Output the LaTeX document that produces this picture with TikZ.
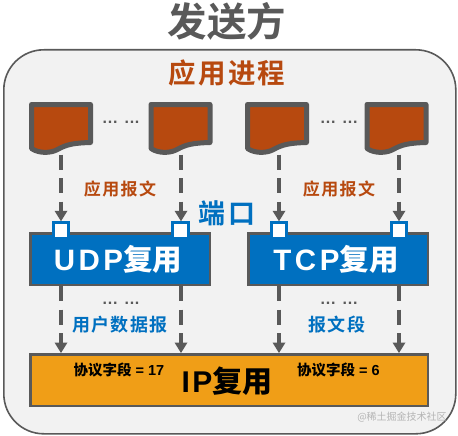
\documentclass[tikz,border=0pt]{standalone}
\usepackage{fontspec}
\setmainfont{Liberation Sans}
\newfontfamily\cjk{Noto Sans CJK SC}
\newfontfamily\cjkb{Noto Sans CJK SC Bold}
\newfontfamily\cjksp[LetterSpace=8]{Noto Sans CJK SC Bold}
\newfontfamily\dotfont[LetterSpace=5]{Liberation Sans Bold}
\definecolor{gr}{HTML}{595959}
\definecolor{rust}{HTML}{B7490F}
\definecolor{blu}{HTML}{0070C0}
\definecolor{org}{HTML}{F09E17}
\definecolor{pane}{HTML}{F2F2F2}
\tikzset{
  x=1pt,y=-1pt,
  txt/.style={inner sep=0pt,anchor=center},
  box/.style={draw=gr,line width=2.5pt,inner sep=0pt,anchor=north west},
  port/.style={draw=blu,fill=white,line width=3pt,minimum size=15.5pt,inner sep=0pt},
  conn/.style={draw=gr,line width=4pt,dash pattern=on 15pt off 8.5pt},
  tip/.style={fill=gr,draw=none},
  docpath/.style={fill=rust,draw=gr,line width=5pt,line join=round},
  dots/.style={txt,text=gr,font=\dotfont\fontsize{16}{16}\selectfont},
}
\newcommand{\docat}[2]{%
  \begin{scope}[shift={(#1,104.5)}]
    \draw[docpath] (0,0) -- (59,0) -- (59,38) .. controls (42,38.5) and (35,40) .. (26,45) .. controls (20,48.5) and (8,49.5) .. (0,44) -- cycle;
  \end{scope}%
  \node[inner sep=0pt,minimum width=64pt,minimum height=51pt] (#2) at (#1+29.5,129) {};%
}
\newcommand{\arrowdown}[2]{%
  \path[conn] (#1) -- (#2);
  \fill[tip] (#2) ++(-6.5,-10.5) -- ++(13,0) -- ++(-6.5,10.5) -- cycle;
}
\begin{document}
\begin{tikzpicture}
\useasboundingbox (0,0) rectangle (458,436);
\fill[white] (0,0) rectangle (458,436);
\node[txt,text=gr,font=\cjkb\fontsize{39.5}{39.5}\selectfont] (title) at (227,21) {发送方};
\node[draw=gr,fill=pane,line width=1.6pt,rounded corners=40pt,minimum width=452pt,minimum height=384pt,anchor=north west,inner sep=0pt] (pane) at (3,49) {};
\node[txt,text=rust,font=\cjksp\fontsize{27.5}{27.5}\selectfont] (proc) at (227,73) {应用进程};
\docat{31.5}{d1}
\docat{151}{d2}
\docat{247.5}{d3}
\docat{367}{d4}
\node[dots] (da) at (121,122) {... ...};
\node[dots] (db) at (339,122) {... ...};
\node[box,fill=blu,minimum width=179.5pt,minimum height=51.5pt] (udp) at (29,232) {};
\node[box,fill=blu,minimum width=179.5pt,minimum height=51.5pt] (tcp) at (247,232) {};
\node[box,fill=org,minimum width=397.5pt,minimum height=51.5pt] (ip) at (29,353) {};
\node[port] (p1) at (61,230.5) {};
\node[port] (p2) at (180.5,230.5) {};
\node[port] (p3) at (279,230.5) {};
\node[port] (p4) at (399,230.5) {};
\coordinate (a1) at (61,154);
\coordinate (a2) at (181,154);
\coordinate (a3) at (279,154);
\coordinate (a4) at (399,154);
\arrowdown{d1.south -| a1}{a1 |- p1.north}
\arrowdown{d2.south -| a2}{a2 |- p2.north}
\arrowdown{d3.south -| a3}{a3 |- p3.north}
\arrowdown{d4.south -| a4}{a4 |- p4.north}
\arrowdown{a1 |- udp.south}{a1 |- ip.north}
\arrowdown{a2 |- udp.south}{a2 |- ip.north}
\arrowdown{a3 |- tcp.south}{a3 |- ip.north}
\arrowdown{a4 |- tcp.south}{a4 |- ip.north}
\node[txt,text=rust,font=\cjksp\fontsize{17}{17}\selectfont] (m1) at (120,189) {应用报文};
\node[txt,text=rust,font=\cjksp\fontsize{17}{17}\selectfont] (m2) at (339,189) {应用报文};
\node[txt,text=blu,font=\cjksp\fontsize{27}{27}\selectfont] (port) at (227,213) {端口};
\node[txt,text=white,font=\bfseries\fontsize{29.5}{29.5}\selectfont] (ut) at (118,259) {\addfontfeatures{LetterSpace=12}UDP{\cjkb 复用}};
\node[txt,text=white,font=\bfseries\fontsize{29.5}{29.5}\selectfont] (tt) at (336,259) {\addfontfeatures{LetterSpace=12}TCP{\cjkb 复用}};
\node[dots] (dc) at (121,303) {... ...};
\node[dots] (dd) at (339,303) {... ...};
\node[txt,text=blu,font=\cjksp\fontsize{18}{18}\selectfont] (s1) at (120,325) {用户数据报};
\node[txt,text=blu,font=\cjksp\fontsize{18}{18}\selectfont] (s2) at (337,325) {报文段};
\node[txt,text=black,font=\bfseries\fontsize{14.5}{14.5}\selectfont] (f1) at (119,370) {{\cjkb 协议字段} = 17};
\node[txt,text=black,font=\bfseries\fontsize{14.5}{14.5}\selectfont] (f2) at (338.5,370) {{\cjkb 协议字段} = 6};
\node[txt,text=black,font=\bfseries\fontsize{30}{30}\selectfont] (it) at (227,381) {\addfontfeatures{LetterSpace=8}IP{\cjkb 复用}};
\node[txt,text=gr!45,font=\cjk\fontsize{10}{10}\selectfont] (wm) at (402,417) {@稀土掘金技术社区};
\end{tikzpicture}
\end{document}
